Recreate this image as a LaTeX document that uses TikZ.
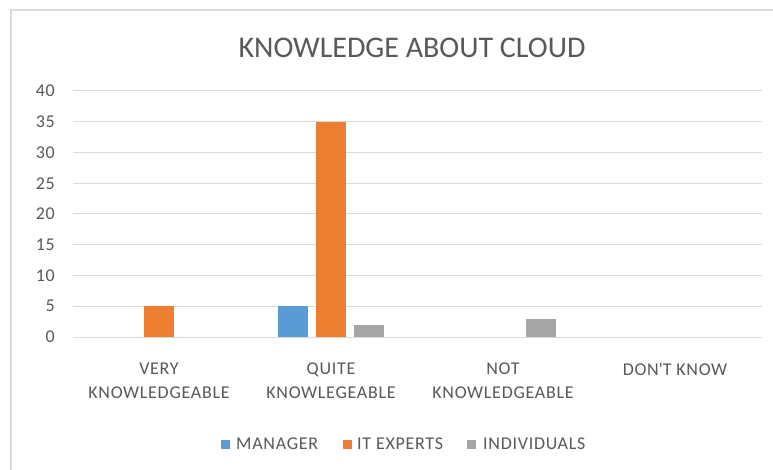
\documentclass[tikz,border=0pt]{standalone}
\usepackage{fontspec}
\setmainfont{Carlito}
\newfontfamily\smallfam[LetterSpace=4]{Carlito}
\definecolor{mgr}{HTML}{5B9BD5}
\definecolor{itx}{HTML}{ED7D31}
\definecolor{ind}{HTML}{A5A5A5}
\definecolor{txt}{HTML}{595959}
\definecolor{grid}{HTML}{D9D9D9}
\begin{document}
\begin{tikzpicture}[x=1pt,y=-1pt,
  gridline/.style={draw=grid,line width=1pt},
  ylab/.style={anchor=east,text=txt,font=\smallfam\fontsize{18}{18}\selectfont,inner sep=0pt},
  catlab/.style={anchor=north,text=txt,align=center,font=\smallfam\fontsize{18}{24}\selectfont,inner sep=0pt},
  leglab/.style={anchor=west,text=txt,font=\smallfam\fontsize{18}{18}\selectfont,inner sep=0pt},
  legbox/.style={minimum size=9pt,inner sep=0pt}]
\useasboundingbox (0,0) rectangle (773,470);
\fill[white] (0,0) rectangle (773,470);
% frame
\draw[draw=grid,line width=2pt] (11,470) -- (11,10) -- (773,10);
% title
\node[text=txt,font=\fontsize{30}{30}\selectfont,inner sep=0pt] (title) at (412,48) {KNOWLEDGE ABOUT CLOUD};
% gridlines and y labels
\foreach \v [evaluate=\v as \yy using {337-\v*6.15}] in {0,5,...,40}{
  \draw[gridline] (73,\yy) -- (762,\yy);
  \node[ylab] (y\v) at (55,\yy) {\v};
}
% Very knowledgeable
\fill[itx] (144.25,337) rectangle (173.75,{337-5*6.15});
% Quite knowlegeable
\fill[mgr] (278.25,337) rectangle (307.75,{337-5*6.15});
\fill[itx] (316.25,337) rectangle (345.75,{337-35*6.15});
\fill[ind] (354.25,337) rectangle (383.75,{337-2*6.15});
% Not knowledgeable
\fill[ind] (526.25,337) rectangle (555.75,{337-3*6.15});
% category labels
\node[catlab] (c1) at (159,363) {VERY\\KNOWLEDGEABLE};
\node[catlab] (c2) at (331,363) {QUITE\\KNOWLEGEABLE};
\node[catlab] (c3) at (503,363) {NOT\\KNOWLEDGEABLE};
\node[catlab] (c4) at (675,363) {DON\textquotesingle T KNOW};
% legend
\node[legbox,fill=mgr] (l1) at (225.5,444) {};
\node[leglab] (t1) at (236,444) {MANAGER};
\node[legbox,fill=itx] (l2) at (347,444) {};
\node[leglab] (t2) at (357,444) {IT EXPERTS};
\node[legbox,fill=ind] (l3) at (471.5,444) {};
\node[leglab] (t3) at (483,444) {INDIVIDUALS};
\end{tikzpicture}
\end{document}
